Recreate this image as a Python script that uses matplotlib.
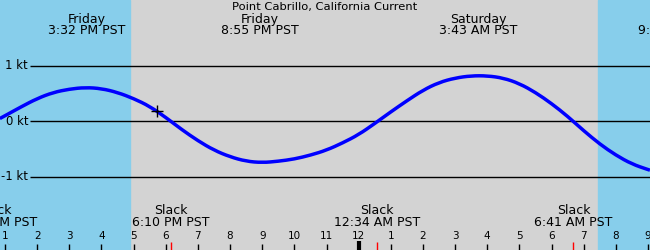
import matplotlib
matplotlib.use('Agg')
import matplotlib.pyplot as plt
from matplotlib.path import Path
from matplotlib.patches import PathPatch

title = 'Point Cabrillo, California Current'

# hours since Friday midnight, speed in knots
hours = [12.84, 13.0, 13.5, 14.0, 14.5, 15.0, 15.5, 16.0, 16.5, 17.0, 17.5,
         18.0, 18.5, 19.0, 19.5, 20.0, 20.5, 21.0, 21.5, 22.0, 22.5, 23.0,
         23.5, 24.0, 24.5, 25.0, 25.5, 26.0, 26.5, 27.0, 27.5, 28.0, 28.5,
         29.0, 29.5, 30.0, 30.5, 31.0, 31.5, 32.0, 32.5, 33.0, 33.06]
speed = [0.05, 0.10, 0.26, 0.41, 0.52, 0.58, 0.61, 0.59, 0.52, 0.41, 0.27,
         0.07, -0.15, -0.35, -0.52, -0.64, -0.72, -0.745, -0.72, -0.68, -0.61, -0.52,
         -0.39, -0.24, -0.04, 0.17, 0.37, 0.56, 0.70, 0.78, 0.82, 0.82, 0.78,
         0.68, 0.52, 0.32, 0.09, -0.17, -0.41, -0.61, -0.77, -0.87, -0.88]

# max / min events (top labels)
peak_hours = [15.53, 20.92, 27.72, 33.9]
peak_days = ['Friday', 'Friday', 'Saturday', 'Saturday']
peak_times = ['3:32 PM PST', '8:55 PM PST', '3:43 AM PST', '9:54 AM PST']

# slack events (bottom labels)
slack_hours = [12.68, 18.17, 24.57, 30.68]
slack_times = ['12:41 PM PST', '6:10 PM PST', '12:34 AM PST', '6:41 AM PST']

sunset = 16.89
sunrise = 31.445
now_hour = 17.737
now_speed = 0.185

kt_levels = [1, 0, -1]
kt_labels = ['1 kt', '0 kt', '-1 kt']
hour_ticks = list(range(13, 34))

# pixel layout: 32.15 px per hour, 55.5 px per knot
px_hour = 32.15
x0 = 13 - 5 / px_hour
x1 = x0 + 650 / px_hour
zero_px = 121.3
px_kt = 55.5

def px_to_t(px):
    return x0 + px / px_hour

def yfrac(py):
    return 1 - py / 250

def smooth_path(xs, ys):
    # quadratic bezier through segment midpoints, just for drawing
    verts = [(xs[0], ys[0])]
    codes = [Path.MOVETO]
    for i in range(1, len(xs) - 1):
        mx = (xs[i] + xs[i + 1]) / 2
        my = (ys[i] + ys[i + 1]) / 2
        verts += [(xs[i], ys[i]), (mx, my)]
        codes += [Path.CURVE3, Path.CURVE3]
    verts.append((xs[-1], ys[-1]))
    codes.append(Path.LINETO)
    return Path(verts, codes)

fig = plt.figure(figsize=(6.5, 2.5), dpi=100)
fig.patch.set_facecolor('#d3d3d3')
ax = fig.add_axes([0, 0, 1, 1])
ax.set_xlim(x0, x1)
ax.set_ylim(-(250 - zero_px) / px_kt, zero_px / px_kt)
ax.axis('off')

ax.axvspan(x0, x1, color='#d3d3d3', zorder=0)
ax.axvspan(x0, sunset, color='#87ceeb', zorder=0.5)
ax.axvspan(sunrise, x1, color='#87ceeb', zorder=0.5)

fs = 9
for lvl, lab in zip(kt_levels, kt_labels):
    ax.hlines(lvl, px_to_t(30), x1, color='black', lw=1, zorder=2)
    ax.text(px_to_t(28), lvl, lab, ha='right', va='center', fontsize=8.4)

ax.add_patch(PathPatch(smooth_path(hours, speed), facecolor='none',
                       edgecolor='#0000ff', lw=2.5, zorder=3))
ax.plot([now_hour], [now_speed], marker='+', color='black', ms=9, mew=1, zorder=4)

tr = ax.get_xaxis_transform()
ax.text(px_to_t(325), yfrac(7), title, ha='center', va='center', fontsize=8.25, transform=tr)
for h, d, t in zip(peak_hours, peak_days, peak_times):
    ax.text(h, yfrac(19), d, ha='center', va='center', fontsize=fs, transform=tr)
    ax.text(h, yfrac(31), t, ha='center', va='center', fontsize=fs, transform=tr)
for h, t in zip(slack_hours, slack_times):
    ax.text(h, yfrac(211), 'Slack', ha='center', va='center', fontsize=fs, transform=tr)
    ax.text(h, yfrac(223), t, ha='center', va='center', fontsize=fs, transform=tr)

for h in hour_ticks:
    lab = str((h - 1) % 12 + 1)
    ax.text(h, yfrac(236), lab, ha='center', va='center', fontsize=7.5, transform=tr)
    if h == 24:
        ax.vlines(h, 0, yfrac(241), color='black', lw=3, transform=tr)
    else:
        ax.vlines(h, 0, yfrac(244), color='black', lw=1, transform=tr)
for h in slack_hours:
    ax.vlines(h, 0, yfrac(242), color='red', lw=1, transform=tr)

fig.savefig('out.png', dpi=100)
